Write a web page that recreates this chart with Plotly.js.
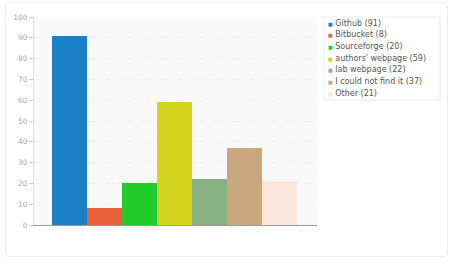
<!DOCTYPE html>
<html>
<head>
<meta charset="utf-8">
<script src="https://cdn.plot.ly/plotly-3.0.1.min.js"></script>
<style>
html,body{margin:0;padding:0;background:#fff;}
#card{position:absolute;left:5px;top:2px;width:443px;height:255px;border:1px solid #ececec;border-radius:4px;box-sizing:border-box;}
#chart{position:absolute;left:0;top:0;width:453px;height:268px;}
</style>
</head>
<body>
<div id="card"></div>
<div id="chart"></div>
<script>
// Data
const categories = ["Github", "Bitbucket", "Sourceforge", "authors' webpage", "lab webpage", "I could not find it", "Other"];
const counts = [91, 8, 20, 59, 22, 37, 21];
const colors = ["#1a80c8", "#e8613a", "#22cc28", "#d4d41e", "#88b182", "#c9a880", "#fbe6dc"];
const yTicks = [0, 10, 20, 30, 40, 50, 60, 70, 80, 90, 100];

// Layout helpers (pixel -> paper)
const L = 34, R = 317, T = 17, B = 225;
const px = p => (p - L) / (R - L);
const py = p => (B - p) / (B - T);

const annotations = [];
const entryTop = 23, entryStep = 11.67;
categories.forEach((c, i) => {
  annotations.push({
    xref: 'paper', yref: 'paper',
    x: px(326), y: py(entryTop + i * entryStep),
    xanchor: 'left', yanchor: 'middle', showarrow: false,
    text: '<span style="color:' + colors[i] + ';font-size:5px">■</span> ' + c + ' (' + counts[i] + ')',
    font: {family: 'DejaVu Sans', size: 8, color: '#555'}
  });
});

const shapes = [
  {type: 'rect', xref: 'paper', yref: 'paper', x0: px(325), x1: px(441), y0: py(101), y1: py(18),
   line: {width: 0}, fillcolor: 'rgba(0,0,0,0.05)', layer: 'above'},
  {type: 'rect', xref: 'paper', yref: 'paper', x0: px(324), x1: px(440), y0: py(100), y1: py(17),
   line: {width: 1, color: '#eeeeee'}, fillcolor: '#ffffff', layer: 'above'}
];

const trace = {
  type: 'bar',
  x: categories,
  y: counts,
  marker: {color: colors, line: {width: 0}},
  hoverinfo: 'x+y',
  showlegend: false
};

const layout = {
  width: 453, height: 268,
  margin: {l: L, r: 453 - R, t: T, b: 268 - B, pad: 0},
  paper_bgcolor: 'rgba(0,0,0,0)',
  plot_bgcolor: '#f9f9f9',
  bargap: 0,
  font: {family: 'DejaVu Sans', size: 7.5, color: '#aaa'},
  xaxis: {
    type: 'category',
    range: [-1.013, 7.07],
    showticklabels: false,
    ticks: '',
    showgrid: false,
    showline: true, linecolor: '#999', linewidth: 1,
    zeroline: false, fixedrange: true
  },
  yaxis: {
    range: [0, 100],
    tickvals: yTicks,
    ticks: 'outside', ticklen: 4, tickcolor: '#ccc',
    showline: true, linecolor: '#ddd', linewidth: 1,
    showgrid: true, gridcolor: '#f0f0f0', griddash: 'dash', gridwidth: 1,
    zeroline: false,
    tickfont: {family: 'DejaVu Sans', size: 7.5, color: '#aaa'},
    fixedrange: true
  },
  shapes: shapes,
  annotations: annotations,
  showlegend: false
};

Plotly.newPlot('chart', [trace], layout, {displayModeBar: false, staticPlot: true});
</script>
</body>
</html>
